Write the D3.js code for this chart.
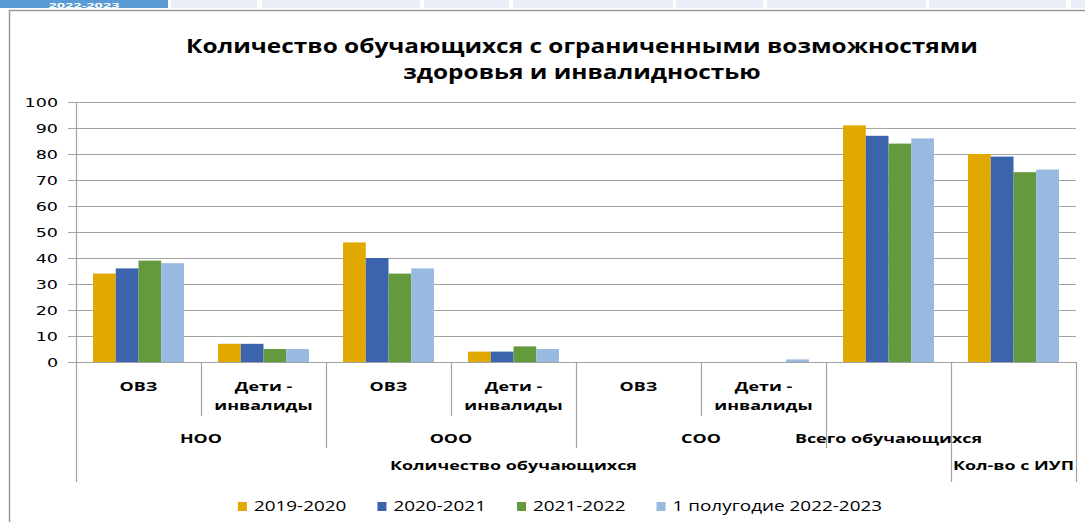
<!DOCTYPE html>
<html><head><meta charset="utf-8">
<script src="https://cdn.jsdelivr.net/npm/d3@7"></script>
<style>html,body{margin:0;padding:0;background:#fff;overflow:hidden}</style>
</head><body>
<svg id="c" width="1085" height="522"></svg>
<script>
// ---- data ----
const level1 = ["ОВЗ","Дети - инвалиды","ОВЗ","Дети - инвалиды","ОВЗ","Дети - инвалиды","",""];
const level2 = ["НОО","НОО","ООО","ООО","СОО","СОО","Всего обучающихся",""];
const level3 = ["Количество обучающихся","Количество обучающихся","Количество обучающихся","Количество обучающихся","Количество обучающихся","Количество обучающихся","Количество обучающихся","Кол-во с ИУП"];
const seriesNames = ["2019-2020","2020-2021","2021-2022","1 полугодие 2022-2023"];
const v2019 = [34,7,46,4,0,0,91,80];
const v2020 = [36,7,40,4,0,0,87,79];
const v2021 = [39,5,34,6,0,0,84,73];
const v2022 = [38,5,36,5,0,1,86,74];
const yTicks = [0,10,20,30,40,50,60,70,80,90,100];
const titleLines = ["Количество обучающихся с ограниченными возможностями","здоровья и инвалидностью"];
const tabLabel = "2022-2023";

// ---- style ----
const colors = ["#E1A900","#3B64AD","#629A3D","#98B9E0"];
const seriesValues = [v2019,v2020,v2021,v2022];
const W = 1085, H = 522;
const plot = {left:76, right:1076, top:102, bottom:362};
const rowY = {l1a:391, l1b:410, l2:443, l3:470};
const divEnd = {l1:416, l2:448, l3:482};
const gridColor = "#a3a3a3";
const calibri = "'Open Sans', 'Noto Sans', sans-serif";

const svg = d3.select("#c");

function stretch(sel, k){
  sel.each(function(){
    const w = this.getComputedTextLength();
    this.setAttribute("textLength", w*k);
    this.setAttribute("lengthAdjust","spacingAndGlyphs");
  });
}

// tab strip
const tabs = [[0,168,"#5B9BD5"],[171,257,"#E9EEF7"],[262,420,"#E9EEF7"],[424,509,"#E9EEF7"],[513,673,"#E9EEF7"],[676,763,"#E9EEF7"],[767,926,"#E9EEF7"],[929,1066,"#E9EEF7"],[1071,1085,"#E9EEF7"]];
svg.selectAll("rect.tab").data(tabs).join("rect").attr("class","tab")
  .attr("x",d=>d[0]).attr("y",0).attr("width",d=>d[1]-d[0]).attr("height",8).attr("fill",d=>d[2]);
const tabT = svg.append("text").attr("x",84).attr("y",7.6).attr("text-anchor","middle")
  .attr("font-family",calibri).attr("font-weight",700).attr("font-size",6.6).attr("fill","#fff").text(tabLabel);
stretch(tabT,2.2);

// frame
svg.append("path").attr("d",`M9.5,${H} V10.5 H${W}`).attr("fill","none").attr("stroke","#9a9a9a").attr("stroke-width",1.5);

// title
const title = svg.append("g").selectAll("text").data(titleLines).join("text")
  .attr("x",582).attr("y",(d,i)=>53+i*26).attr("text-anchor","middle")
  .attr("font-family",calibri).attr("font-weight",700).attr("font-size",20).attr("fill","#000").text(d=>d);
stretch(title,1.22);

// scales
const idx = d3.range(level1.length);
const x0 = d3.scaleBand().domain(idx).range([plot.left,plot.right]).paddingInner(0).paddingOuter(0);
const x1 = d3.scaleBand().domain(d3.range(seriesNames.length)).range([0,x0.bandwidth()]).paddingInner(0).paddingOuter(0.75);
const y = d3.scaleLinear().domain([0,100]).range([plot.bottom,plot.top]);

// grid
svg.append("g").selectAll("line").data(yTicks).join("line")
  .attr("x1",plot.left-8).attr("x2",plot.right).attr("y1",d=>Math.round(y(d))+0.5).attr("y2",d=>Math.round(y(d))+0.5)
  .attr("stroke",gridColor).attr("stroke-width",1.2);

// y axis
const yAxis = svg.append("g").attr("transform",`translate(${plot.left},0)`)
  .call(d3.axisLeft(y).tickValues(yTicks).tickSize(0).tickPadding(18));
yAxis.select(".domain").attr("stroke",gridColor).attr("stroke-width",1.2);
yAxis.selectAll("text").attr("font-family","'DejaVu Sans', Verdana, sans-serif").attr("font-size",12.5).attr("fill","#000").attr("dy","0.36em");
stretch(yAxis.selectAll("text"),1.4);

// bars
const bars = [];
idx.forEach(i=>seriesValues.forEach((s,j)=>bars.push({i,j,v:s[i]})));
svg.append("g").selectAll("rect").data(bars).join("rect")
  .attr("x",d=>x0(d.i)+x1(d.j)).attr("width",x1.bandwidth())
  .attr("y",d=>y(d.v)).attr("height",d=>y(0)-y(d.v))
  .attr("fill",d=>colors[d.j]);

// x axis line
svg.append("line").attr("x1",plot.left-8).attr("x2",plot.right).attr("y1",plot.bottom+0.5).attr("y2",plot.bottom+0.5)
  .attr("stroke",gridColor).attr("stroke-width",1.2);

// category dividers
const bounds = d3.range(level1.length+1).map(b=>{
  let end;
  if (b===0 || b===level1.length || level3[b-1]!==level3[b]) end = divEnd.l3;
  else if (level2[b-1]!==level2[b]) end = divEnd.l2;
  else end = divEnd.l1;
  const xb = b<level1.length ? x0(b) : x0(b-1)+x0.bandwidth();
  return {x:xb,end};
});
svg.append("g").selectAll("line").data(bounds).join("line")
  .attr("x1",d=>Math.round(d.x)+0.5).attr("x2",d=>Math.round(d.x)+0.5)
  .attr("y1",plot.bottom).attr("y2",d=>d.end).attr("stroke",gridColor).attr("stroke-width",1.2);

const lab = svg.append("g").attr("font-family",calibri).attr("font-weight",700).attr("font-size",12.5).attr("fill","#000").attr("text-anchor","middle");

// level1 labels
idx.forEach(i=>{
  const t = level1[i];
  if(!t) return;
  const lines = t.includes(" - ") ? [t.split(" - ")[0]+" -", t.split(" - ")[1]] : [t];
  lines.forEach((ln,k)=>{
    lab.append("text").attr("class","cl").attr("x",x0(i)+x0.bandwidth()/2).attr("y",k===0?rowY.l1a:rowY.l1b).text(ln);
  });
});
function runs(arr){
  const out=[]; let s=0;
  for(let i=1;i<=arr.length;i++){
    if(i===arr.length || arr[i]!==arr[s]){ out.push({label:arr[s],a:s,b:i-1}); s=i; }
  }
  return out.filter(r=>r.label);
}
runs(level2).forEach(r=>{
  lab.append("text").attr("class","cl").attr("x",(x0(r.a)+x0(r.b)+x0.bandwidth())/2).attr("y",rowY.l2).text(r.label);
});
runs(level3).forEach(r=>{
  lab.append("text").attr("class","cl").attr("x",(x0(r.a)+x0(r.b)+x0.bandwidth())/2).attr("y",rowY.l3).text(r.label);
});
stretch(lab.selectAll("text"),1.43);

// legend
const leg = svg.append("g");
let lx = 0;
seriesNames.forEach((n,j)=>{
  const g = leg.append("g").attr("transform",`translate(${lx},0)`);
  g.append("rect").attr("x",0).attr("y",502).attr("width",9).attr("height",9).attr("fill",colors[j]);
  const t = g.append("text").attr("x",16).attr("y",511).attr("font-family",calibri).attr("font-size",15).attr("fill","#000").text(n);
  stretch(t,1.26);
  lx += 16 + (+t.attr("textLength")) + 31;
});
const legW = lx - 31;
leg.attr("transform",`translate(${560-legW/2},0)`);
</script>
</body></html>
